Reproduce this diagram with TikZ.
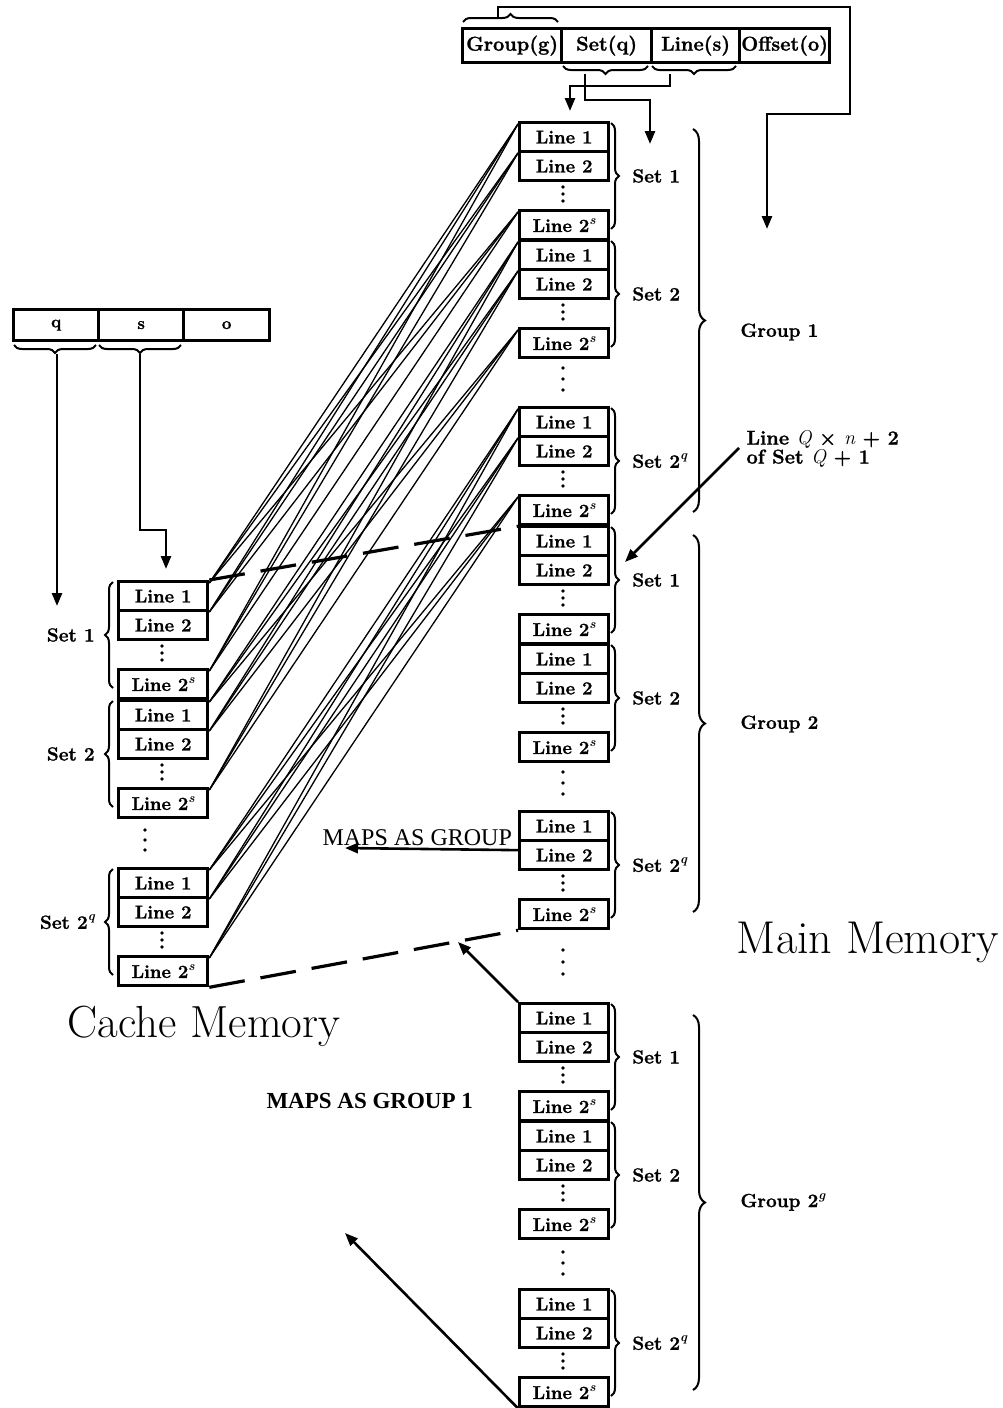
\documentclass[tikz,border=0pt]{standalone}
\usepackage{fontspec}
\setmainfont{Latin Modern Roman}[BoldFeatures={FakeBold=1.2}]
\newfontfamily\timesf{Liberation Serif}
\usetikzlibrary{decorations.pathreplacing,arrows.meta}
\newcommand\mysup[1]{\raisebox{0.42em}{\fontsize{13}{13}\selectfont\itshape #1}}
\tikzset{
 lbox/.style={draw, line width=3.3pt, minimum width=89pt, minimum height=29pt, inner sep=0pt, anchor=north west, font=\fontsize{18.5}{20}\selectfont\bfseries},
 abox/.style={draw, line width=3.3pt, inner sep=0pt, anchor=north west, font=\fontsize{20}{22}\selectfont\bfseries},
 qbox/.style={draw, line width=3.3pt, inner sep=0pt, anchor=north west, minimum height=31pt, font=\fontsize{17}{20}\selectfont\bfseries},
 brc/.style={decorate, decoration={brace, amplitude=8pt}, line width=2pt},
 gbrc/.style={decorate, decoration={brace, amplitude=12pt}, line width=2pt},
 lbl/.style={font=\fontsize{19}{20}\selectfont\bfseries},
 conn/.style={line width=1.3pt},
 arr/.style={line width=2.6pt, -{Triangle[length=13pt,width=10pt]}},
 dsh/.style={line width=3.2pt, dash pattern=on 36pt off 16pt},
}
\newcommand\mmset[4]{%
  \node[lbox] (#1-1) at (#2,#3) {Line 1};
  \node[lbox] (#1-2) at (#2,#3+29) {Line 2};
  \node[lbox] (#1-s) at (#2,#3+88) {Line 2\mysup{s}};
  \foreach \d in {66,73,80} \fill (#2+45,#3+\d) circle (1.8pt);
  \draw[brc] (#2+93,#3+2) -- (#2+93,#3+108) node[midway, anchor=west, xshift=17pt, lbl] {#4};
}
\newcommand\cachset[4]{%
  \node[lbox] (#1-1) at (#2,#3) {Line 1};
  \node[lbox] (#1-2) at (#2,#3+29) {Line 2};
  \node[lbox] (#1-s) at (#2,#3+88) {Line 2\mysup{s}};
  \foreach \d in {66,73,80} \fill (#2+45,#3+\d) circle (1.8pt);
  \draw[brc] (#2-4,#3+108) -- (#2-4,#3+2) node[midway, anchor=east, xshift=-14pt, lbl] {#4};
}
\begin{document}
\begin{tikzpicture}[x=1pt,y=-1pt]
\fill[white] (0,0) rectangle (1003,1408);
\useasboundingbox (0,0) rectangle (1003,1408);

% ---- top address ----
\node[abox, minimum width=99pt, minimum height=34pt] (fg) at (461,27) {Group(g)};
\node[abox, minimum width=90pt, minimum height=34pt] (fq) at (560,27) {Set(q)};
\node[abox, minimum width=88pt, minimum height=34pt] (fs) at (650,27) {Line(s)};
\node[abox, minimum width=90pt, minimum height=34pt] (fo) at (738,27) {Offset(o)};
\draw[brc] (463,22) -- (558,22);
\draw[brc] (648,66) -- (563,66);
\draw[brc] (736,66) -- (652,66);
\coordinate (gtip) at (498,17);
\coordinate (tr) at (850,7);
\coordinate (tr2) at (767,114);
\coordinate (gEnd) at (767,229);
\draw[arr] (gtip) |- (tr) |- (tr2) -- (gEnd);
\coordinate (sA) at (585,74);
\coordinate (sB) at (650,100);
\coordinate (sEnd) at (650,144);
\draw[arr] (sA) |- (sB) -- (sEnd);
\coordinate (lA) at (670,74);
\coordinate (lB) at (570,86);
\coordinate (lEnd) at (570,111);
\draw[arr] (lA) |- (lB) -- (lEnd);

% ---- main memory ----
\mmset{a1}{518}{121}{Set 1}
\mmset{a2}{518}{239}{Set 2}
\mmset{aq}{518}{406}{Set 2\mysup{q}}
\mmset{b1}{518}{525}{Set 1}
\mmset{b2}{518}{643}{Set 2}
\mmset{bq}{518}{810}{Set 2\mysup{q}}
\mmset{c1}{518}{1002}{Set 1}
\mmset{c2}{518}{1120}{Set 2}
\mmset{cq}{518}{1288}{Set 2\mysup{q}}
\foreach \d in {368,379,390, 772,783,794, 950,962,974, 1252,1263,1274} \fill (563,\d) circle (1.8pt);

\draw[gbrc] (693,129) -- (693,512);
\node[lbl, anchor=west] (g1) at (737,332) {Group 1};
\draw[gbrc] (693,535) -- (693,912);
\node[lbl, anchor=west] (g2) at (737,724) {Group 2};
\draw[gbrc] (693,1015) -- (693,1390);
\node[lbl, anchor=west] (g3) at (737,1202) {Group 2\mysup{g}};

\node[anchor=center, font=\fontsize{46}{54}\selectfont] (mm) at (868,942) {Main Memory};

% ---- cache ----
\node[qbox, minimum width=85pt] (cq) at (12,308) {q};
\node[qbox, minimum width=85pt] (cs) at (97,308) {s};
\node[qbox, minimum width=86pt] (co) at (182,308) {o};
\draw[brc] (96,345) -- (14,345);
\draw[brc] (181,345) -- (99,345);
\coordinate (qA) at (57,354);
\coordinate (qEnd) at (57,606);
\draw[arr] (qA) -- (qEnd);
\coordinate (cA) at (140,354);
\coordinate (cB) at (166,530);
\coordinate (cEnd) at (166,569);
\draw[arr] (cA) |- (cB) -- (cEnd);

\cachset{k1}{117}{580}{Set 1}
\cachset{k2}{117}{699}{Set 2}
\cachset{kq}{117}{867}{Set 2\mysup{q}}
\foreach \d in {830,840,850} \fill (145,\d) circle (1.8pt);

\node[anchor=center, font=\fontsize{45}{54}\selectfont] (cm) at (204,1026) {Cache Memory};

% ---- mapping lines ----
\foreach \k in {1,2,q}
  \foreach \i in {1,2,s}
    \foreach \j in {1,2,s}
      \draw[conn] ([yshift=-3pt]a\k-\i.north west) -- ([yshift=-3pt]k\k-\j.north east);

\draw[dsh] (k1-1.north east) -- (aq-s.south west);
\draw[dsh] (kq-s.south east) -- (bq-s.south west);

% ---- labels and arrows ----
\node[anchor=north west, align=left, font=\fontsize{20}{15}\selectfont\bfseries] (lq) at (743,427) {Line {\mdseries\itshape Q} × {\mdseries\itshape n} + 2\\of Set {\mdseries\itshape Q} + 1};
\coordinate (lqS) at (739,448);
\coordinate (lqE) at (625,562);
\draw[arr] (lqS) -- (lqE);

\node[anchor=base west, font=\timesf\fontsize{24}{28}\selectfont] (maps) at (319,845) {MAPS AS GROUP};
\coordinate (mapsEnd) at (345,848);
\draw[arr] ([yshift=5pt]bq-2.west) -- (mapsEnd);

\coordinate (dashPt) at (458,942);
\draw[arr] (c1-1.north west) -- (dashPt);

\node[anchor=base west, font=\timesf\bfseries\fontsize{23}{28}\selectfont] (maps1) at (263,1108) {MAPS AS GROUP 1};
\coordinate (botEnd) at (345,1233);
\draw[arr] (cq-s.south west) -- (botEnd);
\end{tikzpicture}
\end{document}
